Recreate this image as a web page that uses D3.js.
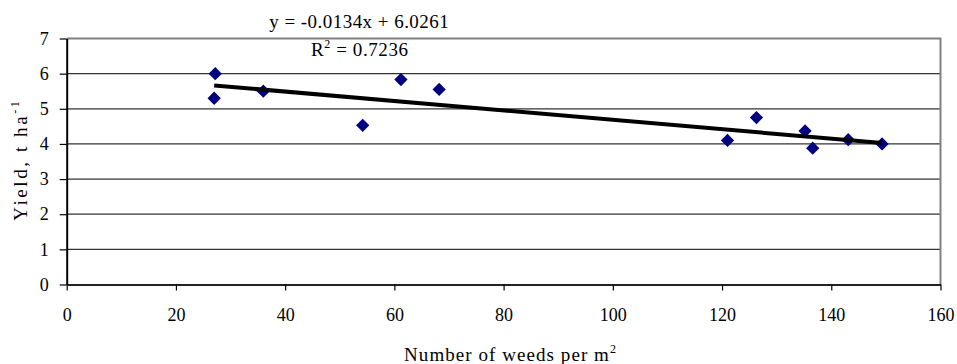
<!DOCTYPE html>
<html>
<head>
<meta charset="utf-8">
<script src="https://cdn.jsdelivr.net/npm/d3@7"></script>
<style>
  body { margin: 0; background: #fff; }
  #chart text { font-family: "Liberation Serif", "Times New Roman", serif; fill: #000; }
</style>
</head>
<body>
<div id="chart"></div>
<script>
// weeds per m2 and yield (t/ha)
var weeds = [27, 27.2, 36, 54.2, 61.2, 68.2, 121, 126.3, 135.2, 136.6, 143.1, 149.3];
var yieldT = [5.3, 6.0, 5.5, 4.53, 5.83, 5.55, 4.1, 4.75, 4.37, 3.88, 4.12, 4.0];
var xTicks = [0, 20, 40, 60, 80, 100, 120, 140, 160];
var yTicks = [0, 1, 2, 3, 4, 5, 6, 7];
var slope = -0.0134, intercept = 6.0261;

var svgWidth = 957, svgHeight = 364;
var margin = { top: 38.5, right: 16.5, bottom: 79.5, left: 66.7 };
var width = svgWidth - margin.left - margin.right;
var height = svgHeight - margin.top - margin.bottom;

var root = d3.select("#chart")
            .append("svg")
            .attr("width", svgWidth)
            .attr("height", svgHeight);
var svg = root.append("g")
            .attr("transform", "translate(" + margin.left + "," + margin.top + ")");

var xScale = d3.scaleLinear().domain([0, 160]).range([0, width]);
var yScale = d3.scaleLinear().domain([0, 7]).range([height, 0]);

// gridlines
svg.append("g")
   .selectAll("line")
   .data(yTicks.filter(function(d) { return d > 0 && d < 7; }))
   .enter().append("line")
   .attr("x1", 0).attr("x2", width)
   .attr("y1", function(d) { return yScale(d); })
   .attr("y2", function(d) { return yScale(d); })
   .attr("stroke", "#333")
   .attr("stroke-width", 1.2);

// top and right border
svg.append("path")
   .attr("d", "M0," + yScale(7) + "H" + width + "V" + height)
   .attr("fill", "none")
   .attr("stroke", "#808080")
   .attr("stroke-width", 2);

// axes
var xAxis = d3.axisBottom(xScale).tickValues(xTicks).tickSize(6).tickSizeOuter(0).tickFormat(d3.format("d"));
var xAxisGroup = svg.append("g")
   .attr("transform", "translate(0," + height + ")")
   .call(xAxis);
xAxisGroup.select(".domain").attr("stroke", "#222").attr("stroke-width", 2);
xAxisGroup.selectAll(".tick line").attr("stroke", "#000").attr("stroke-width", 1.2);
xAxisGroup.selectAll("text").style("font-size", "18px").attr("y", 36).attr("dy", "0");

var yAxis = d3.axisLeft(yScale).tickValues(yTicks).tickSize(7).tickSizeOuter(0).tickFormat(d3.format("d"));
var yAxisGroup = svg.append("g").call(yAxis);
yAxisGroup.select(".domain").attr("stroke", "#000").attr("stroke-width", 2);
yAxisGroup.selectAll(".tick line").attr("stroke", "#000").attr("stroke-width", 1.2);
yAxisGroup.selectAll("text").style("font-size", "18px").attr("x", -18);

// points
var diamond = d3.symbol().type(d3.symbolSquare).size(88);
svg.append("g")
   .selectAll("path")
   .data(weeds)
   .enter().append("path")
   .attr("d", diamond)
   .attr("transform", function(d, i) {
       return "translate(" + xScale(d) + "," + yScale(yieldT[i]) + ") rotate(45)";
   })
   .attr("fill", "#000080");

// linear trend line
var xMin = d3.min(weeds), xMax = d3.max(weeds);
svg.append("line")
   .attr("x1", xScale(xMin)).attr("y1", yScale(slope * xMin + intercept))
   .attr("x2", xScale(xMax)).attr("y2", yScale(slope * xMax + intercept))
   .attr("stroke", "#000")
   .attr("stroke-width", 4);

// spread a centred label's letters so it spans the given width
function fitText(t, pos, w, rotate) {
    var bw = t.node().getBBox().width;
    var n = t.text().length;
    var ls = Math.max(0, (w - bw) / n);
    t.style("letter-spacing", ls + "px");
    t.attr("transform", "translate(" + (pos[0] + (rotate ? 0 : ls / 2)) + "," + (pos[1] - (rotate ? ls / 2 : 0)) + ")" + (rotate ? " rotate(-90)" : ""));
}

// equation labels
var eq = root.append("text")
   .style("text-anchor", "middle")
   .style("font-size", "19px")
   .text("y = -0.0134x + 6.0261");
fitText(eq, [359, 28], 180);

var r2 = root.append("text")
   .style("text-anchor", "middle")
   .style("font-size", "19px");
r2.append("tspan").text("R");
r2.append("tspan").attr("dy", -8).style("font-size", "12px").text("2");
r2.append("tspan").attr("dy", 8).text(" = 0.7236");
fitText(r2, [359.5, 55.5], 97.6);

// axis titles
var yt = root.append("text")
   .style("text-anchor", "middle")
   .style("font-size", "19px");
yt.append("tspan").text("Yield, t ha");
yt.append("tspan").attr("dy", -8).style("font-size", "12px").text("-1");
fitText(yt, [27, 161], 122, true);

var xt = root.append("text")
   .style("text-anchor", "middle")
   .style("font-size", "19px");
xt.append("tspan").text("Number of weeds per m");
xt.append("tspan").attr("dy", -8).style("font-size", "12px").text("2");
fitText(xt, [510, 360.5], 213);
</script>
</body>
</html>
